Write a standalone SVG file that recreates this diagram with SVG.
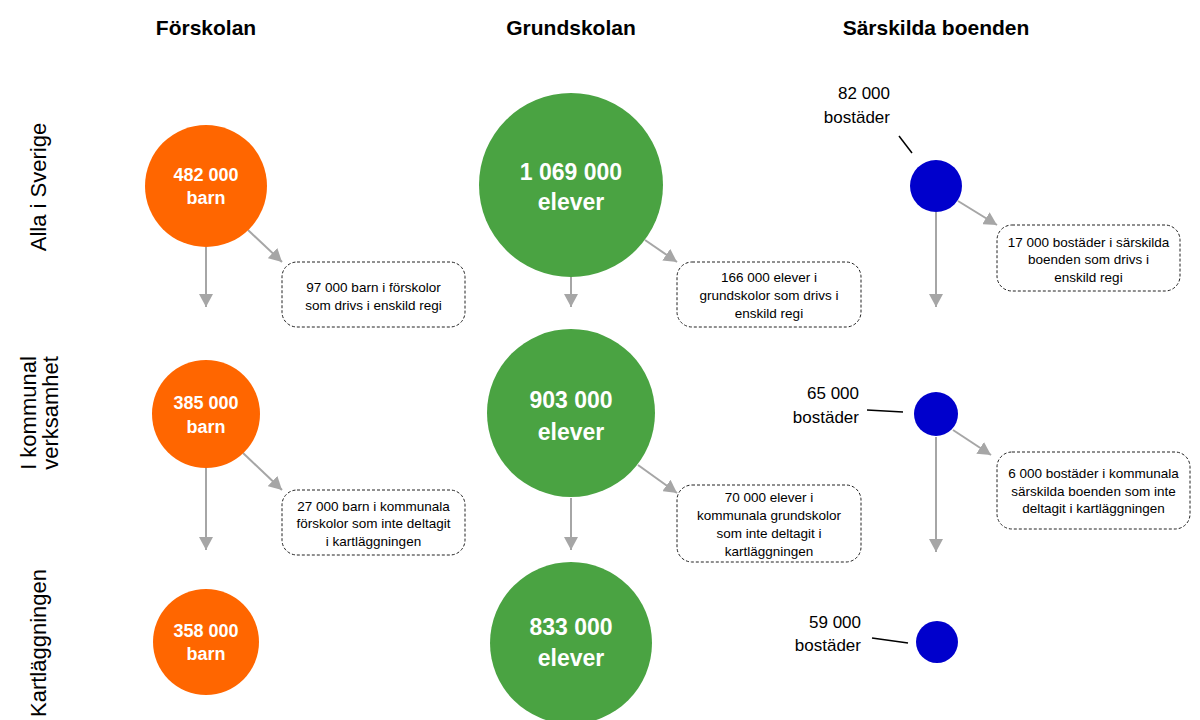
<svg xmlns="http://www.w3.org/2000/svg" width="1200" height="720" viewBox="0 0 1200 720">
<defs>
<style>
.hdr{font-family:"Liberation Sans",Arial,sans-serif;font-weight:bold;font-size:21px;fill:#000;text-anchor:middle}
.row{font-family:"Liberation Sans",Arial,sans-serif;font-size:22px;fill:#000;text-anchor:middle}
.cs{font-family:"Liberation Sans",Arial,sans-serif;font-weight:bold;font-size:18px;fill:#fff;text-anchor:middle}
.cl{font-family:"Liberation Sans",Arial,sans-serif;font-weight:bold;font-size:23px;fill:#fff;text-anchor:middle}
.lbl{font-family:"Liberation Sans",Arial,sans-serif;font-size:17px;fill:#000;text-anchor:end}
.bt{font-family:"Liberation Sans",Arial,sans-serif;font-size:13.5px;fill:#000;text-anchor:middle}
.box{fill:#fff;stroke:#222;stroke-width:1;stroke-dasharray:3,2}
.org{fill:#ff6600}
.grn{fill:#4aa342}
.blu{fill:#0000cc}
.arr{stroke:#a6a6a6;stroke-width:2;fill:none;marker-end:url(#ah)}
.ldr{stroke:#000;stroke-width:1.5;fill:none}
</style>
<marker id="ah" markerUnits="userSpaceOnUse" markerWidth="14" markerHeight="14" refX="13" refY="7" orient="auto" viewBox="0 0 14 14">
<path d="M0,0 L13,7 L0,14 z" fill="#a6a6a6"/>
</marker>
</defs>
<rect width="1200" height="720" fill="#fff"/>

<g id="headers">
<text class="hdr" x="206" y="35">Förskolan</text>
<text class="hdr" x="571" y="35">Grundskolan</text>
<text class="hdr" x="936" y="35">Särskilda boenden</text>
</g>

<g id="row-labels">
<text class="row" transform="translate(46,187) rotate(-90)">Alla i Sverige</text>
<text class="row" transform="translate(36,413) rotate(-90)">I kommunal</text>
<text class="row" transform="translate(58,413) rotate(-90)">verksamhet</text>
<text class="row" transform="translate(46,643) rotate(-90)">Kartläggningen</text>
</g>

<g id="connectors">
<line class="arr" x1="206" y1="247" x2="206" y2="307"/>
<line class="arr" x1="248" y1="230" x2="282" y2="262"/>
<line class="arr" x1="206" y1="468" x2="206" y2="550"/>
<line class="arr" x1="243" y1="453" x2="282" y2="490"/>
<line class="arr" x1="571" y1="277" x2="571" y2="307"/>
<line class="arr" x1="645" y1="240" x2="677" y2="262"/>
<line class="arr" x1="571" y1="498" x2="571" y2="550"/>
<line class="arr" x1="638" y1="465" x2="677" y2="493"/>
<line class="arr" x1="936" y1="212" x2="936" y2="307"/>
<line class="arr" x1="958" y1="201" x2="997" y2="225"/>
<line class="arr" x1="936" y1="437" x2="936" y2="552"/>
<line class="arr" x1="953" y1="430" x2="991" y2="455"/>
<line class="ldr" x1="899" y1="136" x2="912" y2="153"/>
<line class="ldr" x1="867" y1="410" x2="903" y2="412"/>
<line class="ldr" x1="872" y1="638" x2="908" y2="643"/>
</g>

<g id="forskolan-alla">
<circle class="org" cx="206" cy="186" r="61"/>
<text class="cs" x="206" y="181">482 000</text>
<text class="cs" x="206" y="204">barn</text>
</g>
<g id="forskolan-kommunal">
<circle class="org" cx="206" cy="414" r="54"/>
<text class="cs" x="206" y="409">385 000</text>
<text class="cs" x="206" y="433">barn</text>
</g>
<g id="forskolan-kart">
<circle class="org" cx="206" cy="642" r="53"/>
<text class="cs" x="206" y="637">358 000</text>
<text class="cs" x="206" y="660">barn</text>
</g>

<g id="grundskolan-alla">
<circle class="grn" cx="571" cy="185" r="92"/>
<text class="cl" x="571" y="180">1 069 000</text>
<text class="cl" x="571" y="210">elever</text>
</g>
<g id="grundskolan-kommunal">
<circle class="grn" cx="571" cy="413" r="84"/>
<text class="cl" x="571" y="408">903 000</text>
<text class="cl" x="571" y="440">elever</text>
</g>
<g id="grundskolan-kart">
<circle class="grn" cx="571" cy="643" r="81"/>
<text class="cl" x="571" y="635">833 000</text>
<text class="cl" x="571" y="666">elever</text>
</g>

<g id="sarskilda-alla">
<circle class="blu" cx="936" cy="186" r="26"/>
<text class="lbl" x="890" y="99">82 000</text>
<text class="lbl" x="890" y="123">bostäder</text>
</g>
<g id="sarskilda-kommunal">
<circle class="blu" cx="936" cy="414" r="22"/>
<text class="lbl" x="859" y="399">65 000</text>
<text class="lbl" x="859" y="423">bostäder</text>
</g>
<g id="sarskilda-kart">
<circle class="blu" cx="937" cy="642" r="21"/>
<text class="lbl" x="861" y="628">59 000</text>
<text class="lbl" x="861" y="651">bostäder</text>
</g>

<g id="box-forskolan-enskild">
<rect class="box" x="282" y="262" width="183" height="65" rx="15"/>
<text class="bt" x="373.5" y="292">97 000 barn i förskolor</text>
<text class="bt" x="373.5" y="310">som drivs i enskild regi</text>
</g>
<g id="box-grundskolan-enskild">
<rect class="box" x="677" y="262" width="184" height="65" rx="15"/>
<text class="bt" x="769" y="282">166 000 elever i</text>
<text class="bt" x="769" y="300">grundskolor som drivs i</text>
<text class="bt" x="769" y="318">enskild regi</text>
</g>
<g id="box-sarskilda-enskild">
<rect class="box" x="997" y="225" width="183" height="66" rx="15"/>
<text class="bt" x="1088.5" y="247">17 000 bostäder i särskilda</text>
<text class="bt" x="1088.5" y="264">boenden som drivs i</text>
<text class="bt" x="1088.5" y="282">enskild regi</text>
</g>
<g id="box-forskolan-ej">
<rect class="box" x="282" y="490" width="183" height="65" rx="15"/>
<text class="bt" x="373.5" y="511">27 000 barn i kommunala</text>
<text class="bt" x="373.5" y="528">förskolor som inte deltagit</text>
<text class="bt" x="373.5" y="546">i kartläggningen</text>
</g>
<g id="box-grundskolan-ej">
<rect class="box" x="677" y="485" width="184" height="77" rx="15"/>
<text class="bt" x="769" y="502">70 000 elever i</text>
<text class="bt" x="769" y="520">kommunala grundskolor</text>
<text class="bt" x="769" y="538">som inte deltagit i</text>
<text class="bt" x="769" y="556">kartläggningen</text>
</g>
<g id="box-sarskilda-ej">
<rect class="box" x="997" y="452" width="193" height="77" rx="15"/>
<text class="bt" x="1093.5" y="478">6 000 bostäder i kommunala</text>
<text class="bt" x="1093.5" y="496">särskilda boenden som inte</text>
<text class="bt" x="1093.5" y="513">deltagit i kartläggningen</text>
</g>
</svg>
